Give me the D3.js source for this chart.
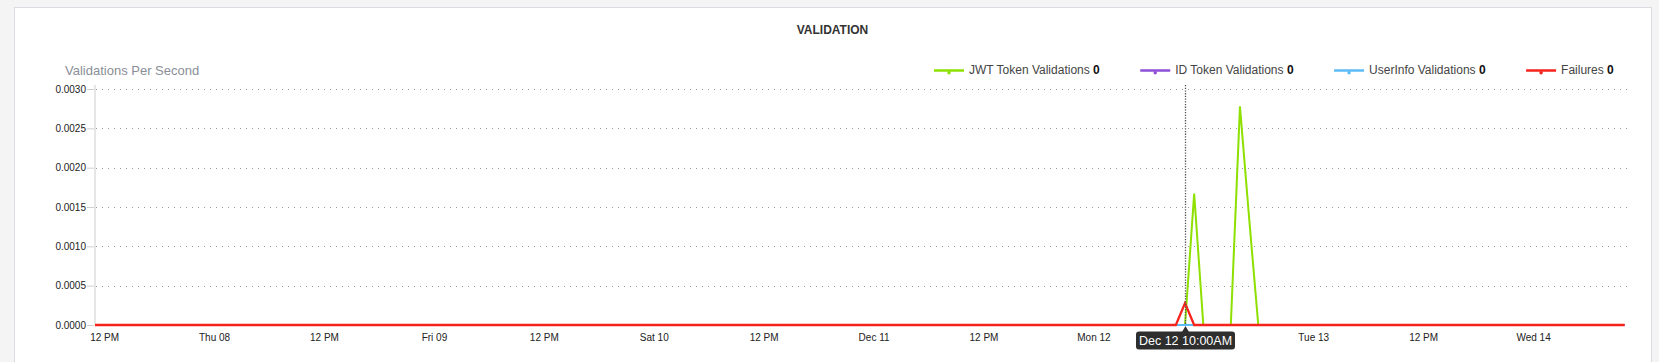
<!DOCTYPE html>
<html><head><meta charset="utf-8">
<script src="https://cdn.jsdelivr.net/npm/d3@7"></script>
<style>
html,body{margin:0;padding:0;background:#f4f4f4;overflow:hidden;}
svg{display:block;font-family:"Liberation Sans",Arial,Helvetica,sans-serif;}
</style></head><body>
<svg id="chart" width="1659" height="362"></svg>
<script>
// ---- data ----
const chartTitle = "VALIDATION";
const yAxisTitle = "Validations Per Second";
const seriesNames = ["JWT Token Validations", "ID Token Validations", "UserInfo Validations", "Failures"];
const seriesColors = ["#8ee000", "#8d4fd8", "#5dbcf5", "#f5231b"];
const legendValues = ["0", "0", "0", "0"];
// vertices: [time, value]
const jwtTimes = ["2022-12-07T11:00", "2022-12-12T10:00", "2022-12-12T11:00", "2022-12-12T12:00", "2022-12-12T15:00", "2022-12-12T16:00", "2022-12-12T17:00", "2022-12-12T18:00", "2022-12-14T10:00"];
const jwtValues = [0, 0, 0.00167, 0, 0, 0.00278, 0.00136, 0, 0];
const idTimes = ["2022-12-07T11:00", "2022-12-14T10:00"];
const idValues = [0, 0];
const userInfoTimes = ["2022-12-07T11:00", "2022-12-14T10:00"];
const userInfoValues = [0, 0];
const failureTimes = ["2022-12-07T11:00", "2022-12-12T09:00", "2022-12-12T10:00", "2022-12-12T11:00", "2022-12-14T10:00"];
const failureValues = [0, 0, 0.000278, 0, 0];
const yTicks = [0, 0.0005, 0.0010, 0.0015, 0.0020, 0.0025, 0.0030];
const xDomain = ["2022-12-07T11:00", "2022-12-14T10:48"];
const hoverTime = "2022-12-12T10:00";
const hoverLabel = "Dec 12 10:00AM";

// ---- setup ----
const parse = d3.timeParse("%Y-%m-%dT%H:%M");
const svg = d3.select("#chart");

// panel
svg.append("rect").attr("x", 14.5).attr("y", 7.5).attr("width", 1637).attr("height", 420)
  .attr("fill", "#fff").attr("stroke", "#d9dce1");

const x = d3.scaleTime().domain(xDomain.map(parse)).range([95, 1632]);
const y = d3.scaleLinear().domain([0, 0.003]).range([325, 89]);

// title
svg.append("text").attr("x", 832.5).attr("y", 34).attr("text-anchor", "middle")
  .attr("font-size", 12).attr("font-weight", "bold").attr("fill", "#333").text(chartTitle);
svg.append("text").attr("x", 65).attr("y", 75).attr("font-size", 13).attr("fill", "#8a8e97").text(yAxisTitle);

// gridlines
svg.append("g").selectAll("line").data(yTicks.filter(d => d > 0)).join("line")
  .attr("x1", 96).attr("x2", 1632).attr("y1", d => Math.round(y(d)) + 0.5).attr("y2", d => Math.round(y(d)) + 0.5)
  .attr("stroke", "#9a9a9a").attr("stroke-dasharray", "1,5");

// y axis line
svg.append("line").attr("x1", 95).attr("x2", 95).attr("y1", 85).attr("y2", 325)
  .attr("stroke", "#e6e6e6").attr("stroke-width", 2);

// y axis
const yAxis = svg.append("g").attr("transform", "translate(94,0)")
  .call(d3.axisLeft(y).tickValues(yTicks).tickFormat(d3.format(".4f")).tickSize(7).tickPadding(1));
yAxis.select(".domain").remove();
yAxis.selectAll(".tick line").attr("stroke", "#cfcfcf");
yAxis.selectAll(".tick text").attr("font-size", 10).attr("fill", "#222").attr("font-family", "Liberation Sans, Arial, sans-serif");

// hover position
const hx = Math.round(x(parse(hoverTime))) + 0.5;
const tipW = 99;

// x axis (the tick label under the tooltip is covered, as in the original)
const xTickValues = x.ticks(d3.timeHour.every(12)).filter(t => Math.abs(x(t) - hx) > tipW / 2 + 14);
const xAxis = svg.append("g").attr("transform", "translate(0,325)")
  .call(d3.axisBottom(x).tickValues(xTickValues).tickFormat(x.tickFormat()).tickSize(0).tickPadding(9));
xAxis.select(".domain").remove();
xAxis.selectAll(".tick text").attr("font-size", 10).attr("fill", "#222").attr("font-family", "Liberation Sans, Arial, sans-serif");

// lines
const seriesData = [
  d3.zip(jwtTimes.map(parse), jwtValues),
  d3.zip(idTimes.map(parse), idValues),
  d3.zip(userInfoTimes.map(parse), userInfoValues),
  d3.zip(failureTimes.map(parse), failureValues)
];
const line = d3.line().x(d => x(d[0])).y(d => y(d[1]));
svg.append("g").selectAll("path").data(seriesData).join("path")
  .attr("d", line).attr("fill", "none")
  .attr("stroke", (d, i) => seriesColors[i])
  .attr("stroke-width", (d, i) => i === 3 ? 2.3 : 2)
  .attr("stroke-linejoin", "miter");

// crosshair
svg.append("line").attr("x1", hx).attr("x2", hx).attr("y1", 85).attr("y2", 324)
  .attr("stroke", "#555").attr("stroke-width", 1.3).attr("stroke-dasharray", "1.3,1.4");

// tooltip
svg.append("path").attr("d", `M${hx},326 L${hx - 3.5},332 L${hx + 3.5},332 Z`).attr("fill", "#2e2e2e");
svg.append("rect").attr("x", hx - tipW / 2).attr("y", 331.5).attr("width", tipW).attr("height", 18).attr("rx", 3)
  .attr("fill", "#2e2e2e");
svg.append("text").attr("x", hx).attr("y", 345).attr("text-anchor", "middle")
  .attr("font-size", 12.5).attr("fill", "#fff").text(hoverLabel);

// legend
const legend = svg.append("g");
let lx = 934;
seriesNames.forEach((name, i) => {
  const g = legend.append("g");
  g.append("line").attr("x1", lx).attr("x2", lx + 30).attr("y1", 70.5).attr("y2", 70.5)
    .attr("stroke", seriesColors[i]).attr("stroke-width", 2.5);
  g.append("circle").attr("cx", lx + 15).attr("cy", 72.8).attr("r", 1.7).attr("fill", seriesColors[i]);
  const t = g.append("text").attr("x", lx + 35).attr("y", 74).attr("font-size", 12).attr("fill", "#444");
  t.append("tspan").text(name + " ");
  t.append("tspan").attr("font-weight", "bold").attr("fill", "#111").text(legendValues[i]);
  lx = lx + 35 + t.node().getComputedTextLength() + 40.5;
});
</script>
</body></html>
